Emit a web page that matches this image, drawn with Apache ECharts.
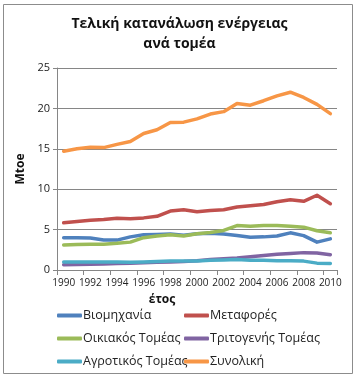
<!DOCTYPE html>
<html>
<head>
<meta charset="utf-8">
<script src="https://cdn.jsdelivr.net/npm/echarts@6/dist/echarts.min.js"></script>
<style>
html,body{margin:0;padding:0;background:#fff;}
#c{width:359px;height:376px;}
</style>
</head>
<body>
<div id="c"></div>
<script>
const years = ['1990','1991','1992','1993','1994','1995','1996','1997','1998','1999','2000','2001','2002','2003','2004','2005','2006','2007','2008','2009','2010'];
const seriesNames = ['Βιομηχανία','Μεταφορές','Οικιακός Τομέας','Τριτογενής Τομέας','Αγροτικός Τομέας','Συνολική'];
const industry   = [4.0,4.0,3.95,3.7,3.7,4.1,4.35,4.4,4.45,4.3,4.5,4.55,4.45,4.28,4.05,4.1,4.2,4.6,4.25,3.45,3.85];
const transport  = [5.85,6.0,6.15,6.25,6.4,6.35,6.45,6.65,7.3,7.45,7.2,7.35,7.45,7.8,7.95,8.1,8.45,8.7,8.5,9.25,8.2];
const household  = [3.1,3.15,3.2,3.2,3.3,3.45,4.0,4.2,4.35,4.2,4.48,4.65,4.9,5.5,5.4,5.5,5.5,5.4,5.3,4.85,4.6];
const tertiary   = [0.65,0.68,0.72,0.75,0.8,0.85,0.9,0.95,1.0,1.05,1.15,1.3,1.4,1.5,1.65,1.8,1.95,2.05,2.15,2.1,1.9];
const agriculture= [1.0,1.0,1.0,1.0,1.0,0.95,1.0,1.05,1.1,1.1,1.1,1.2,1.25,1.3,1.2,1.2,1.15,1.15,1.1,0.85,0.8];
const total      = [14.7,15.0,15.2,15.15,15.55,15.9,16.9,17.35,18.25,18.3,18.7,19.3,19.6,20.6,20.4,20.95,21.55,22.0,21.35,20.5,19.35];
const yTicks = [0,5,10,15,20,25];
const colors = ['#4F81BD','#C0504D','#9BBB59','#8064A2','#4BACC6','#F79646'];
const values = [industry, transport, household, tertiary, agriculture, total];

const font = 'Open Sans';
const chart = echarts.init(document.getElementById('c'), null, {renderer:'canvas'});
chart.setOption({
  animation:false,
  color: colors,
  title:{
    text:'Τελική κατανάλωση ενέργειας\nανά τομέα',
    left:'center', top:9,
    textStyle:{fontFamily:font,fontWeight:'bold',fontSize:14,color:'#111',lineHeight:20}
  },
  graphic:[{type:'rect',shape:{x:3.5,y:4.5,width:349,height:369},style:{fill:'none',stroke:'#8c8c8c',lineWidth:1},silent:true,z:-1}],
  grid:{left:57,right:22,top:68,bottom:106,containLabel:false},
  xAxis:{
    type:'category', data:years, boundaryGap:true,
    name:'έτος', nameLocation:'middle', nameGap:24,
    nameTextStyle:{fontFamily:font,fontWeight:'bold',fontSize:12,color:'#111',padding:[0,70,0,0]},
    axisLine:{lineStyle:{color:'#868686'}},
    axisTick:{show:true,length:5,lineStyle:{color:'#868686'}},
    axisLabel:{interval:1,fontFamily:font,fontSize:10,color:'#222',margin:8},
    splitLine:{show:false}
  },
  yAxis:{
    type:'value', min:yTicks[0], max:yTicks[yTicks.length-1], interval:5,
    name:'Mtoe', nameLocation:'middle', nameGap:26,
    nameTextStyle:{fontFamily:font,fontWeight:'bold',fontSize:12,color:'#111'},
    axisLine:{show:true,lineStyle:{color:'#868686'}},
    axisTick:{show:true,length:4,lineStyle:{color:'#868686'}},
    axisLabel:{fontFamily:font,fontSize:11,color:'#222',margin:7},
    splitLine:{lineStyle:{color:'#868686'}}
  },
  legend:[
    {data:[seriesNames[0],seriesNames[2],seriesNames[4]], orient:'vertical', left:52, top:304, itemWidth:25, itemHeight:4, itemGap:10, icon:'roundRect',
     textStyle:{fontFamily:font,fontSize:12.5,color:'#222',padding:[0,0,0,-4]}},
    {data:[seriesNames[1],seriesNames[3],seriesNames[5]], orient:'vertical', left:179, top:304, itemWidth:25, itemHeight:4, itemGap:10, icon:'roundRect',
     textStyle:{fontFamily:font,fontSize:12.5,color:'#222',padding:[0,0,0,-4]}}
  ],
  series: seriesNames.map((n,i)=>({
    name:n, type:'line', data:values[i], symbol:'none', smooth:false,
    lineStyle:{width:3.5,color:colors[i],cap:'round',join:'round'},
    itemStyle:{color:colors[i]}
  }))
});
</script>
</body>
</html>
